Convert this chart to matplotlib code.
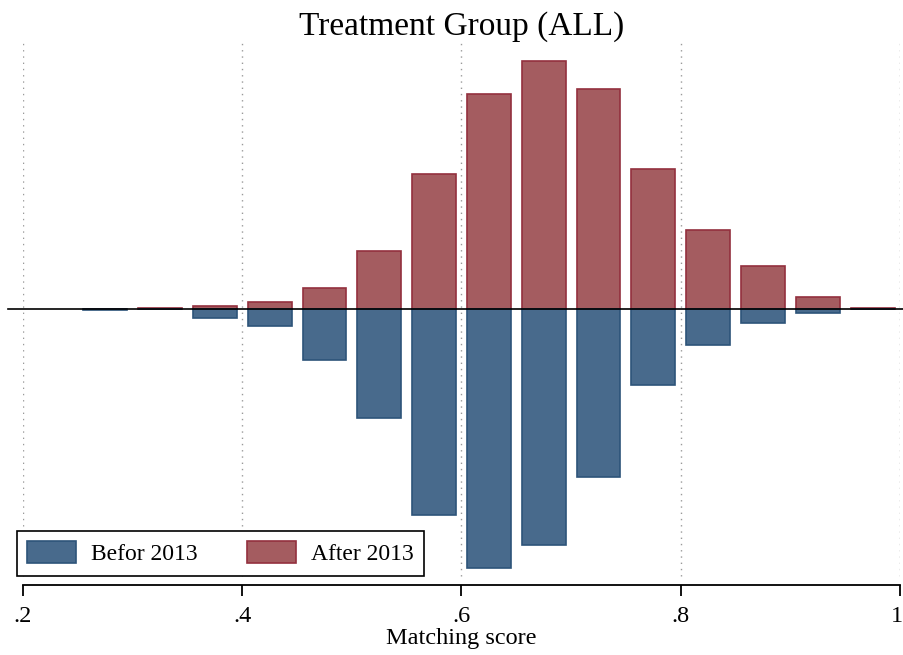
import matplotlib
matplotlib.use("Agg")
import matplotlib.pyplot as plt
import matplotlib.transforms as mtransforms
from matplotlib.patches import Patch

# matching-score bins (centres) and densities for each period
bin_centers = [0.275, 0.325, 0.375, 0.425, 0.475, 0.525, 0.575, 0.625,
               0.675, 0.725, 0.775, 0.825, 0.875, 0.925, 0.975]
after_2013 = [0.0, 0.02, 0.05, 0.12, 0.36, 0.98, 2.29, 3.64,
              4.20, 3.73, 2.37, 1.34, 0.73, 0.20, 0.02]
before_2013 = [0.02, 0.0, 0.15, 0.29, 0.86, 1.85, 3.49, 4.39,
               4.00, 2.85, 1.29, 0.61, 0.24, 0.07, 0.0]
xticks = [0.2, 0.4, 0.6, 0.8, 1.0]
xtick_labels = [".2", ".4", ".6", ".8", "1"]

blue_fill, blue_edge = "#486a8c", "#2d5479"
red_fill, red_edge = "#a45c60", "#93303e"

plt.rcParams["font.family"] = ["Liberation Serif", "DejaVu Serif"]

fig = plt.figure(figsize=(9.04, 6.55), dpi=100)
ax = fig.add_axes([23 / 904, 1 - 585 / 655, 877 / 904, 543 / 655])

ax.bar(bin_centers, after_2013, width=0.04, color=red_fill,
       edgecolor=red_edge, linewidth=1.2, zorder=3)
ax.bar(bin_centers, [-v for v in before_2013], width=0.04, color=blue_fill,
       edgecolor=blue_edge, linewidth=1.2, zorder=3)

# zero line runs a bit past the axis range
ax.plot([-0.017, 1.005], [0, 0], transform=ax.get_yaxis_transform(),
        color="black", linewidth=1.2, clip_on=False, zorder=4)

ax.set_xlim(0.2, 1.0)
ax.set_ylim(-4.68, 4.53)
ax.set_xticks(xticks)
ax.set_xticklabels(xtick_labels, fontsize=17.5)
ax.set_yticks([])
ax.tick_params(axis="x", direction="out", length=8, width=1.3, pad=7)
for s in ["left", "right", "top"]:
    ax.spines[s].set_visible(False)
ax.spines["bottom"].set_linewidth(1.3)

# keep the last tick label inside the figure
last = ax.get_xticklabels()[-1]
last.set_transform(last.get_transform() +
                   mtransforms.ScaledTranslation(-3 / 100, 0, fig.dpi_scale_trans))

for x in xticks:
    ax.plot([x, x], [-4.53, 4.53], color="#9a9a9a", linestyle=(0, (1, 3.5)),
            linewidth=1.0, zorder=1)

ax.set_xlabel("Matching score", fontsize=17.5, labelpad=1)
ax.set_title("Treatment Group (ALL)", fontsize=24, pad=1)

handles = [Patch(facecolor=blue_fill, edgecolor=blue_edge, linewidth=1.2),
           Patch(facecolor=red_fill, edgecolor=red_edge, linewidth=1.2)]
leg = ax.legend(handles, ["Befor 2013", "After 2013"], ncol=2,
                loc="lower left", bbox_to_anchor=(-0.007, 0.017),
                borderaxespad=0, fontsize=17, fancybox=False,
                edgecolor="black", framealpha=1, handlelength=2.05,
                handleheight=1.0, columnspacing=2.1, handletextpad=0.64,
                borderpad=0.45)
leg.get_frame().set_linewidth(1.2)
leg.set_zorder(5)

fig.savefig("out.png", dpi=100, facecolor="white")
